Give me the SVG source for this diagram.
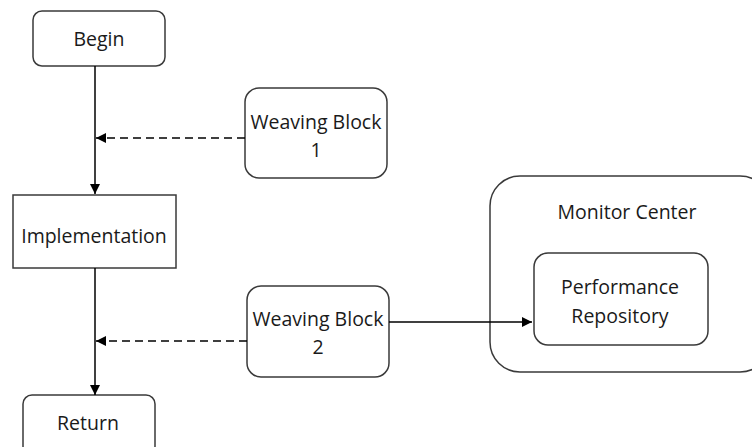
<svg xmlns="http://www.w3.org/2000/svg" width="752" height="447" viewBox="0 0 752 447">
<defs>
<marker id="ah" viewBox="0 0 10 10" refX="10" refY="5" markerWidth="10" markerHeight="10" markerUnits="userSpaceOnUse" orient="auto">
<path d="M0,0 L10,5 L0,10 z" fill="#000"/>
</marker>
<style>
.box{fill:#fff;stroke:#3a3a3a;stroke-width:1.5}
.t{font-family:"Open Sans","Liberation Sans",sans-serif;font-size:19.5px;fill:#1a1a1a;text-anchor:middle}
.c{stroke:#000;stroke-width:1.5;fill:none}
.d{stroke-dasharray:8,5}
</style>
</defs>
<rect width="752" height="447" fill="#fff"/>
<g id="begin">
<rect class="box" x="33" y="11" width="132" height="55" rx="9"/>
<text class="t" x="99" y="46">Begin</text>
</g>
<g id="weaving1">
<rect class="box" x="245" y="88" width="142" height="90" rx="14"/>
<text class="t" x="316" y="129">Weaving Block</text>
<text class="t" x="316" y="157">1</text>
</g>
<g id="implementation">
<rect class="box" x="13" y="195" width="163" height="73"/>
<text class="t" x="94" y="243">Implementation</text>
</g>
<g id="weaving2">
<rect class="box" x="247" y="286" width="142" height="91" rx="14"/>
<text class="t" x="318" y="326">Weaving Block</text>
<text class="t" x="318" y="354">2</text>
</g>
<g id="return">
<rect class="box" x="23" y="395" width="132" height="60" rx="9"/>
<text class="t" x="88" y="430">Return</text>
</g>
<g id="monitor">
<rect class="box" x="490" y="176" width="280" height="196" rx="30"/>
<text class="t" x="627" y="219">Monitor Center</text>
</g>
<g id="repository">
<rect class="box" x="534" y="253" width="174" height="92" rx="14"/>
<text class="t" x="620" y="294">Performance</text>
<text class="t" x="620" y="323">Repository</text>
</g>
<g id="connectors">
<line class="c" x1="95" y1="66" x2="95" y2="194" marker-end="url(#ah)"/>
<line class="c" x1="95" y1="268" x2="95" y2="395" marker-end="url(#ah)"/>
<line class="c d" x1="245" y1="138" x2="96" y2="138" marker-end="url(#ah)"/>
<line class="c d" x1="247" y1="341" x2="96" y2="341" marker-end="url(#ah)"/>
<line class="c" x1="389" y1="322" x2="532" y2="322" marker-end="url(#ah)"/>
</g>
</svg>
